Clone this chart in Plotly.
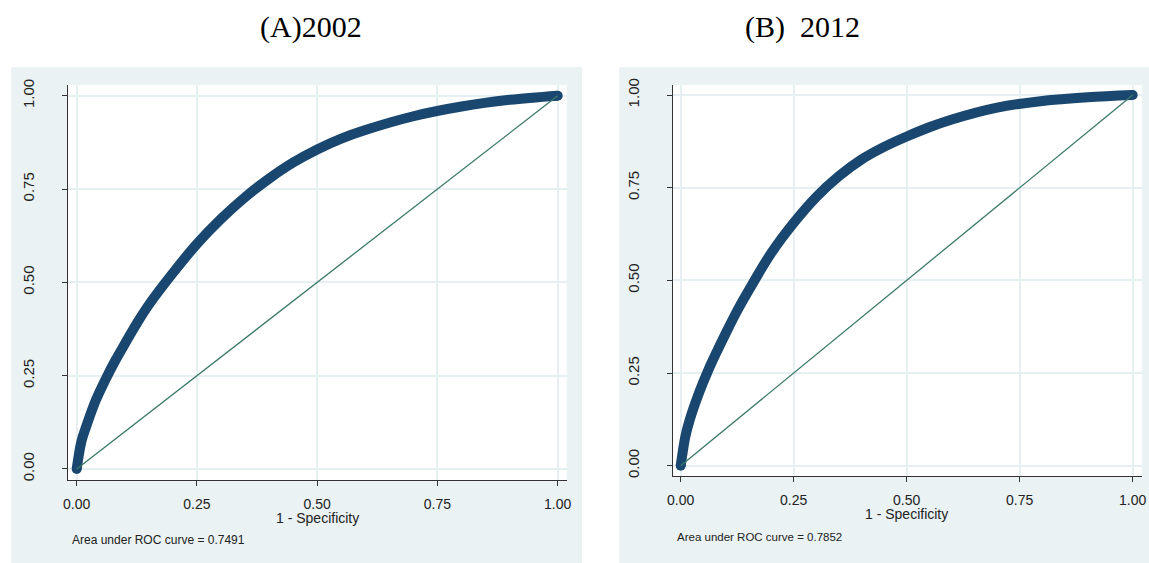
import plotly.graph_objects as go

# ---- data ----
fpr_2002 = [0, 0.01, 0.02, 0.04, 0.06, 0.08, 0.10, 0.125, 0.15, 0.20, 0.25, 0.30,
            0.35, 0.40, 0.45, 0.50, 0.55, 0.60, 0.70, 0.80, 0.90, 1.0]
tpr_2002 = [0, 0.075, 0.115, 0.185, 0.24, 0.29, 0.335, 0.39, 0.44, 0.525, 0.603, 0.67,
            0.728, 0.778, 0.821, 0.856, 0.885, 0.908, 0.945, 0.971, 0.989, 1.0]

fpr_2012 = [0, 0.01, 0.02, 0.04, 0.06, 0.08, 0.10, 0.125, 0.15, 0.20, 0.25, 0.30,
            0.35, 0.40, 0.45, 0.50, 0.55, 0.60, 0.70, 0.80, 0.90, 1.0]
tpr_2012 = [0, 0.077, 0.124, 0.195, 0.255, 0.308, 0.358, 0.418, 0.472, 0.573, 0.655, 0.725,
            0.781, 0.826, 0.86, 0.888, 0.913, 0.934, 0.966, 0.984, 0.994, 1.0]

ref_line = [0, 1]
tick_vals = [0, 0.25, 0.5, 0.75, 1.0]
tick_text = ["0.00", "0.25", "0.50", "0.75", "1.00"]
panel_titles = ["(A)2002", "(B)\u00a0 2012"]
auc_texts = ["Area under ROC curve = 0.7491", "Area under ROC curve = 0.7852"]
x_title = "1 - Specificity"

W, H = 1149, 563
NAVY = "#1A476F"
REF = "#3A7868"
PANEL = "#EAF2F3"
GRID = "#E6EFF1"
AX = "#333333"

def px_x(p):
    return p / W

def px_y(p):
    return 1 - p / H

# plot-area boxes in pixels (left, right, top, bottom)
boxes = [(67.7, 566.7, 85, 480), (672.7, 1141.7, 85, 476.3)]

fig = go.Figure()

for i, (fx, ty) in enumerate([(fpr_2002, tpr_2002), (fpr_2012, tpr_2012)]):
    xa = "x" if i == 0 else "x2"
    ya = "y" if i == 0 else "y2"
    fig.add_trace(go.Scatter(x=fx, y=ty, xaxis=xa, yaxis=ya, mode="lines",
                             line=dict(color=NAVY, width=10, shape="spline", smoothing=1.0),
                             showlegend=False, hoverinfo="x+y"))
    fig.add_trace(go.Scatter(x=[fx[0], fx[-1]], y=[ty[0], ty[-1]], xaxis=xa, yaxis=ya,
                             mode="markers", marker=dict(color=NAVY, size=10, line=dict(width=0)),
                             showlegend=False, hoverinfo="skip"))
    fig.add_trace(go.Scatter(x=ref_line, y=ref_line, xaxis=xa, yaxis=ya, mode="lines",
                             line=dict(color=REF, width=1.3), showlegend=False))

common_x = dict(tickvals=tick_vals, ticktext=tick_text, showgrid=True, gridcolor=GRID,
                gridwidth=1.5, zeroline=False, showline=True, linecolor=AX, linewidth=1.2,
                ticks="outside", ticklen=5, tickcolor=AX, tickwidth=1, automargin=False,
                tickfont=dict(family="Liberation Sans", size=14, color="#222222"),
                ticklabelstandoff=6, fixedrange=True)
common_y = dict(tickvals=tick_vals, ticktext=tick_text, showgrid=True, gridcolor=GRID,
                gridwidth=1.5, zeroline=False, showline=True, linecolor=AX, linewidth=1.2,
                ticks="outside", ticklen=5, tickcolor=AX, tickwidth=1, tickangle=-90,
                automargin=False,
                tickfont=dict(family="Liberation Sans", size=15, color="#222222"),
                ticklabelstandoff=22, fixedrange=True)

(l1, r1, t1, b1), (l2, r2, t2, b2) = boxes
fig.update_layout(
    width=W, height=H, margin=dict(l=0, r=0, t=0, b=0, pad=0, autoexpand=False),
    paper_bgcolor="white", plot_bgcolor="white", showlegend=False,
    xaxis=dict(common_x, domain=[px_x(l1), px_x(r1)], range=[-0.0187, 1.0187], anchor="y"),
    yaxis=dict(common_y, domain=[px_y(b1), px_y(t1)], range=[-0.0295, 1.0287], anchor="x"),
    xaxis2=dict(common_x, domain=[px_x(l2), px_x(r2)], range=[-0.0177, 1.0199], anchor="y2"),
    yaxis2=dict(common_y, domain=[px_y(b2), px_y(t2)], range=[-0.0286, 1.027], anchor="x2"),
)

# panel backgrounds
for x0, x1 in [(11, 582), (619, 1149)]:
    fig.add_shape(type="rect", xref="paper", yref="paper", x0=px_x(x0), x1=px_x(x1),
                  y0=0, y1=px_y(67), fillcolor=PANEL, line=dict(width=0), layer="below")
# white plot areas over the panel background
for l, r, t, b in boxes:
    fig.add_shape(type="rect", xref="paper", yref="paper", x0=px_x(l), x1=px_x(r),
                  y0=px_y(b), y1=px_y(t), fillcolor="white", line=dict(width=0), layer="below")

# titles
for txt, cx in zip(panel_titles, [311, 802]):
    fig.add_annotation(text=txt, xref="paper", yref="paper", x=px_x(cx), y=px_y(27),
                       showarrow=False, xanchor="center", yanchor="middle",
                       font=dict(family="Liberation Serif", size=30, color="black"))

# axis titles
for cx, cy in [(317, 518), (906.7, 514)]:
    fig.add_annotation(text=x_title, xref="paper", yref="paper", x=px_x(cx), y=px_y(cy),
                       showarrow=False, xanchor="center", yanchor="middle",
                       font=dict(family="Liberation Sans", size=14, color="#222222"))

# AUC notes
for txt, lx, cy, fs in zip(auc_texts, [70, 675], [540, 536.7], [12, 11.5]):
    fig.add_annotation(text=txt, xref="paper", yref="paper", x=px_x(lx), y=px_y(cy),
                       showarrow=False, xanchor="left", yanchor="middle",
                       font=dict(family="Liberation Sans", size=fs, color="#222222"))

page_css = ("document.documentElement.style.margin='0';"
            "document.documentElement.style.overflow='hidden';"
            "document.body.style.margin='0';document.body.style.padding='0';"
            "document.body.style.overflow='hidden';")
fig.write_html("out.html", post_script=page_css, config={"displayModeBar": False})
